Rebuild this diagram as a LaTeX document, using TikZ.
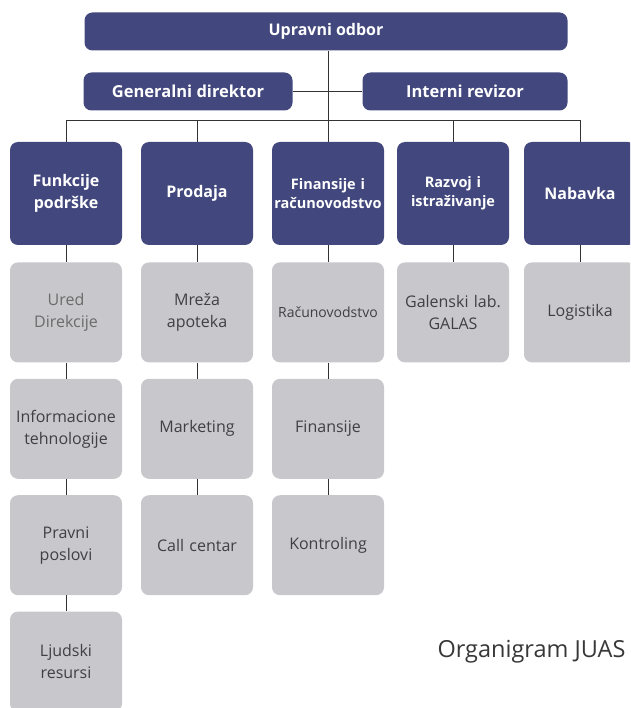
\documentclass[tikz,border=0pt]{standalone}
\usepackage{fontspec}
\setmainfont{Open Sans}
\usetikzlibrary{positioning}
\definecolor{tamno}{RGB}{66,72,125}
\definecolor{sivo}{RGB}{200,200,204}
\definecolor{tekst}{RGB}{64,64,68}

\begin{document}
\begin{tikzpicture}[x=1pt,y=-1pt,node distance=16pt,
    glavni/.style={fill=tamno,rounded corners=8pt,text=white,inner sep=0pt,align=center,
        minimum height=38pt,font=\bfseries\fontsize{16}{20}\selectfont},
    sektor/.style={glavni,minimum width=112pt,minimum height=103pt,text width=110pt},
    odsek/.style={fill=sivo,rounded corners=8pt,text=tekst,inner sep=0pt,align=center,
        minimum width=112pt,minimum height=100pt,text width=110pt,font=\fontsize{16}{22}\selectfont},
    veza/.style={draw=black!80,line width=0.9pt}]
    \useasboundingbox (0,0) rectangle (630,708);
    \clip (0,0) rectangle (630,708);
    \fill[white] (0,0) rectangle (630,708);

    % uprava
    \node[glavni,minimum width=483pt] (uo) at (326,31.5) {Upravni odbor};
    \node[glavni,minimum width=209pt,font=\bfseries\fontsize{16.5}{20}\selectfont] (gd) at (188,91.5) {Generalni direktor};
    \node[glavni,minimum width=205pt,font=\bfseries\fontsize{16.5}{20}\selectfont] (ir) at (465,91.5) {Interni revizor};
    \coordinate (bus) at (328,120);

    % sektori
    \node[sektor,font=\bfseries\fontsize{16}{22}\selectfont] (fp) at (66,193.5) {Funkcije\\podrške};
    \node[sektor,font=\bfseries\fontsize{16}{22}\selectfont] (pr) at (197,193.5) {Prodaja};
    \node[sektor,font=\bfseries\fontsize{14.5}{19}\selectfont] (fr) at (328,193.5) {Finansije i\\računovodstvo};
    \node[sektor,font=\bfseries\fontsize{14.5}{19}\selectfont] (ri) at (453,193.5) {Razvoj i\\istraživanje};
    \node[sektor,font=\bfseries\fontsize{16}{22}\selectfont] (nb) at (580,193.5) {Nabavka};

    % odseci
    \node[odsek,below=17pt of fp,text=black!58] (ud) {Ured\\Direkcije};
    \node[odsek,below=of ud] (it) {Informacione\\tehnologije};
    \node[odsek,below=of it] (pp) {Pravni\\poslovi};
    \node[odsek,below=of pp] (lr) {Ljudski\\resursi};

    \node[odsek,below=17pt of pr] (ma) {Mreža\\apoteka};
    \node[odsek,below=of ma] (mk) {Marketing};
    \node[odsek,below=of mk] (cc) {Call centar};

    \node[odsek,below=17pt of fr,font=\fontsize{14}{18}\selectfont] (ra) {Računovodstvo};
    \node[odsek,below=of ra] (fi) {Finansije};
    \node[odsek,below=of fi] (ko) {Kontroling};

    \node[odsek,below=17pt of ri] (gl) {Galenski lab.\\GALAS};
    \node[odsek,below=17pt of nb] (lo) {Logistika};

    % veze
    \draw[veza] (bus) -- (bus |- uo.south);
    \draw[veza] (gd) -- (ir);
    \foreach \s in {fp,pr,fr,ri,nb}
        \draw[veza] (\s.north) |- (bus);
    \draw[veza] (fp) -- (ud) -- (it) -- (pp) -- (lr);
    \draw[veza] (pr) -- (ma) -- (mk) -- (cc);
    \draw[veza] (fr) -- (ra) -- (fi) -- (ko);
    \draw[veza] (ri) -- (gl);
    \draw[veza] (nb) -- (lo);

    \node[anchor=east,text=black!78,font=\fontsize{23.5}{28}\selectfont] (naslov) at (629,652) {Organigram JUAS};
\end{tikzpicture}
\end{document}
